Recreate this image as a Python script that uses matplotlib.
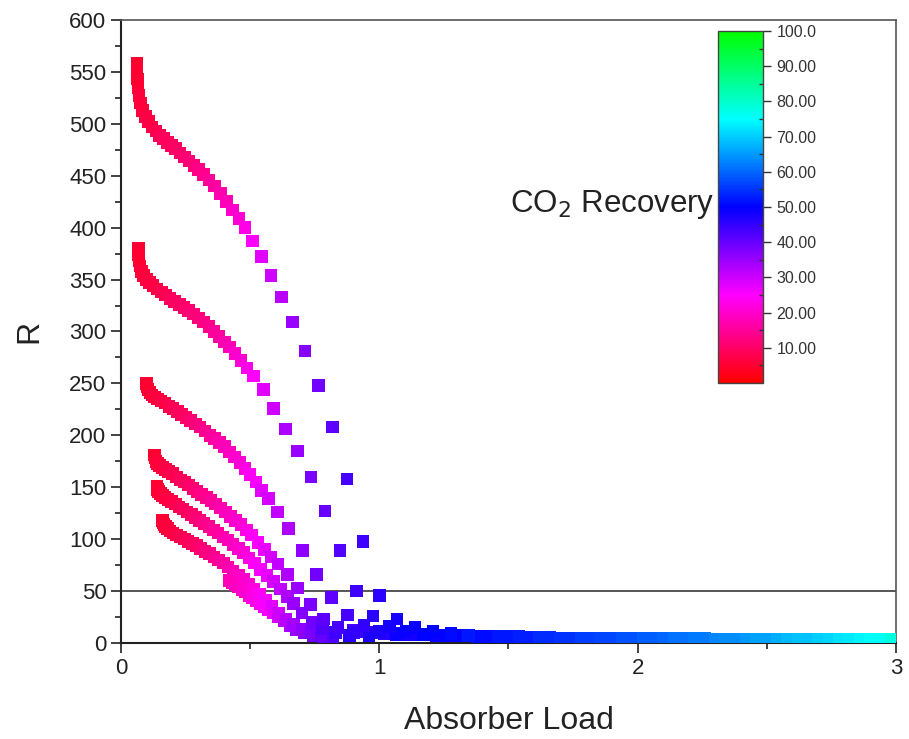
import matplotlib
matplotlib.use("Agg")
import matplotlib.pyplot as plt
from matplotlib.colors import LinearSegmentedColormap
from matplotlib.ticker import MultipleLocator, FixedLocator

plt.rcParams['font.family'] = ['Liberation Sans', 'DejaVu Sans']

# --- data: absorber load, R and CO2 recovery (%) per sweep ---
a_load = [0.062, 0.062, 0.063, 0.066, 0.07, 0.076, 0.084, 0.094, 0.106, 0.12,
          0.135, 0.15, 0.165, 0.18, 0.195, 0.21, 0.228, 0.246, 0.264, 0.282,
          0.30, 0.32, 0.34, 0.362, 0.385, 0.408, 0.432, 0.456, 0.48, 0.508,
          0.543, 0.58, 0.621, 0.664, 0.712, 0.764, 0.819, 0.875, 0.936, 1.0,
          1.068, 1.138, 1.208, 1.278, 1.345]
a_r = [558, 551, 543, 535, 527, 520, 513, 507, 502, 497,
       493, 489, 486, 482, 479, 476, 472, 468, 464, 460,
       456, 451, 446, 440, 433, 425, 417, 409, 400, 387,
       372, 354, 333, 309, 281, 248, 208, 158, 98, 46,
       23, 15, 11, 9, 7]
a_rec = [5, 5, 5, 5, 6, 6, 6, 7, 7, 7,
         8, 8, 9, 9, 9, 10, 10, 11, 12, 12,
         13, 14, 15, 16, 17, 18, 20, 21, 23, 25,
         28, 30, 32, 35, 37, 39, 41, 43, 44, 46,
         48, 49, 50, 51, 52]

b_load = [0.068, 0.068, 0.07, 0.074, 0.08, 0.088, 0.098, 0.11, 0.124, 0.14,
          0.156, 0.172, 0.19, 0.208, 0.226, 0.244, 0.262, 0.28, 0.30, 0.32,
          0.34, 0.36, 0.38, 0.40, 0.42, 0.442, 0.465, 0.488, 0.512, 0.551,
          0.59, 0.636, 0.683, 0.735, 0.79, 0.848, 0.912, 0.976, 1.04, 1.105,
          1.17]
b_r = [380, 374, 368, 363, 358, 354, 350, 347, 344, 341,
       338, 335, 332, 329, 326, 323, 320, 317, 313, 309,
       305, 300, 295, 290, 285, 279, 272, 265, 257, 244,
       226, 206, 185, 160, 127, 89, 50, 26, 16, 11,
       8]
b_rec = [5, 5, 5, 5, 6, 6, 6, 7, 7, 7,
         8, 8, 9, 9, 10, 10, 11, 12, 12, 13,
         14, 15, 16, 17, 18, 20, 21, 23, 25, 28,
         30, 33, 35, 38, 40, 42, 44, 46, 48, 49,
         50]

c_load = [0.098, 0.1, 0.105, 0.112, 0.12, 0.13, 0.142, 0.155, 0.17, 0.186,
          0.202, 0.218, 0.235, 0.252, 0.27, 0.288, 0.306, 0.325, 0.344, 0.363,
          0.382, 0.40, 0.42, 0.44, 0.46, 0.48, 0.50, 0.522, 0.545, 0.57,
          0.605, 0.648, 0.702, 0.757, 0.815, 0.877, 0.94, 1.0, 1.065]
c_r = [250, 247, 244, 241, 239, 237, 235, 233, 231, 228,
       226, 223, 220, 217, 214, 211, 208, 204, 200, 197,
       193, 189, 184, 179, 174, 168, 162, 155, 147, 139,
       126, 110, 89, 66, 44, 27, 17, 11, 8]
c_rec = [5, 5, 5, 5, 6, 6, 6, 7, 7, 8,
         8, 9, 9, 10, 11, 12, 13, 14, 15, 16,
         17, 18, 19, 20, 21, 22, 24, 26, 28, 29,
         31, 33, 36, 39, 41, 43, 45, 47, 49]

d_load = [0.13, 0.132, 0.136, 0.142, 0.15, 0.16, 0.172, 0.185, 0.2, 0.215,
          0.23, 0.246, 0.262, 0.278, 0.295, 0.312, 0.33, 0.348, 0.366, 0.385,
          0.404, 0.424, 0.444, 0.464, 0.485, 0.506, 0.53, 0.555, 0.58, 0.607,
          0.644, 0.684, 0.733, 0.784, 0.84, 0.9, 0.96]
d_r = [181, 178, 175, 173, 171, 169, 167, 165, 163, 160,
       157, 155, 152, 149, 146, 143, 140, 137, 134, 130,
       126, 122, 118, 114, 109, 104, 97, 90, 83, 76,
       66, 53, 37, 23, 15, 10, 7]
d_rec = [5, 5, 5, 6, 6, 6, 7, 7, 8, 8,
         9, 9, 10, 11, 12, 13, 14, 15, 16, 17,
         18, 19, 20, 21, 22, 24, 26, 27, 29, 31,
         33, 35, 38, 41, 43, 45, 47]

e_load = [0.14, 0.142, 0.146, 0.152, 0.16, 0.17, 0.182, 0.196, 0.21, 0.225,
          0.24, 0.256, 0.272, 0.288, 0.305, 0.322, 0.34, 0.358, 0.376, 0.395,
          0.414, 0.434, 0.454, 0.474, 0.495, 0.516, 0.54, 0.565, 0.59, 0.617,
          0.645, 0.667, 0.7, 0.74, 0.78, 0.83, 0.885]
e_r = [151, 148, 146, 144, 142, 140, 138, 136, 134, 131,
       129, 126, 124, 121, 118, 115, 112, 109, 106, 102,
       99, 95, 91, 87, 82, 77, 71, 65, 59, 52,
       45, 38, 29, 20, 14, 10, 7]
e_rec = [5, 5, 5, 6, 6, 6, 7, 7, 8, 8,
         9, 9, 10, 11, 12, 13, 14, 15, 16, 17,
         18, 19, 20, 21, 22, 24, 26, 27, 29, 31,
         33, 35, 37, 39, 42, 44, 46]

f_load = [0.16, 0.162, 0.166, 0.172, 0.18, 0.19, 0.202, 0.215, 0.23, 0.245,
          0.26, 0.276, 0.292, 0.308, 0.325, 0.342, 0.36, 0.378, 0.396, 0.415,
          0.434, 0.454, 0.474, 0.494, 0.515, 0.537, 0.56, 0.585, 0.61, 0.638,
          0.668, 0.7, 0.735, 0.775, 0.82]
f_r = [118, 116, 114, 112, 110, 108, 106, 104, 102, 100,
       98, 96, 94, 91, 88, 86, 83, 80, 77, 73,
       69, 65, 61, 57, 52, 47, 41, 35, 29, 23,
       18, 13, 10, 7, 5]
f_rec = [5, 5, 5, 6, 6, 6, 7, 7, 8, 8,
         9, 9, 10, 11, 12, 13, 14, 15, 16, 17,
         18, 19, 20, 21, 22, 24, 26, 28, 30, 32,
         34, 36, 38, 40, 42]

g_load = [0.42, 0.43, 0.442, 0.455, 0.468, 0.482, 0.496, 0.51, 0.525, 0.54,
          0.556, 0.572, 0.59, 0.61, 0.632, 0.655, 0.68, 0.71, 0.745, 0.785]
g_r = [60, 58, 56, 54, 51, 49, 46, 44, 41, 38,
       35, 32, 29, 25, 21, 17, 13, 10, 7, 5]
g_rec = [18, 18, 19, 19, 20, 20, 21, 22, 23, 24,
         25, 26, 27, 29, 31, 33, 35, 37, 39, 41]

# low-R tail shared by all sweeps at high load
tail_load = [0.90, 0.94, 0.98, 1.02, 1.06, 1.10, 1.14, 1.18, 1.22, 1.26,
             1.30, 1.34, 1.38, 1.42, 1.46, 1.50, 1.54, 1.58, 1.62, 1.66,
             1.70, 1.74, 1.78, 1.82, 1.86, 1.90, 1.94, 1.98, 2.02, 2.06,
             2.10, 2.14, 2.18, 2.22, 2.26, 2.30, 2.34, 2.38, 2.42, 2.46,
             2.50, 2.54, 2.58, 2.62, 2.66, 2.70, 2.74, 2.78, 2.82, 2.86,
             2.90, 2.94, 2.98]
tail_r = [12, 11, 10, 9, 9, 8, 8, 8, 7, 7,
          7, 7, 6, 6, 6, 6, 6, 5.5, 5.5, 5.5,
          5, 5, 5, 5, 5, 5, 4.5, 4.5, 4.5, 4.5,
          4.5, 4.5, 4.5, 4.5, 4.5, 4, 4, 4, 4, 4,
          4, 4, 4, 4, 4, 4, 4, 4, 4, 4,
          4, 4, 4]
tail_rec = [43, 44, 45, 46, 47, 48, 48, 49, 49, 50,
            50, 51, 51, 51, 52, 52, 53, 53, 54, 54,
            55, 55, 56, 56, 57, 57, 58, 58, 59, 59,
            60, 61, 61, 62, 62, 63, 64, 64, 65, 66,
            66, 67, 68, 69, 69, 70, 71, 72, 73, 74,
            75, 76, 78]

sweeps = [
    (tail_load, tail_r, tail_rec),
    (g_load, g_r, g_rec),
    (f_load, f_r, f_rec),
    (e_load, e_r, e_rec),
    (d_load, d_r, d_rec),
    (c_load, c_r, c_rec),
    (b_load, b_r, b_rec),
    (a_load, a_r, a_rec),
]

cbar_ticks = [10, 20, 30, 40, 50, 60, 70, 80, 90, 100]
cbar_labels = ['10.00', '20.00', '30.00', '40.00', '50.00',
               '60.00', '70.00', '80.00', '90.00', '100.0']

# red -> magenta -> blue -> cyan -> green
rainbow = LinearSegmentedColormap.from_list(
    'rec', [(0.0, '#ff0000'), (0.25, '#ff00ff'), (0.5, '#0000ff'),
            (0.75, '#00ffff'), (1.0, '#00ff00')])

fig = plt.figure(figsize=(9.09, 7.39), dpi=100)
ax = fig.add_axes([0.1331, 0.1299, 0.8526, 0.8431])

for load, r, rec in sweeps:
    sc = ax.scatter(load, r, c=rec, cmap=rainbow, vmin=0, vmax=100,
                    marker='s', s=82, linewidths=0, zorder=3)

ax.axhline(50, color='#555555', lw=1.4, zorder=2)

ax.set_xlim(0, 3)
ax.set_ylim(0, 600)
ax.xaxis.set_major_locator(MultipleLocator(1))
ax.xaxis.set_minor_locator(MultipleLocator(0.5))
ax.yaxis.set_major_locator(MultipleLocator(50))
ax.yaxis.set_minor_locator(MultipleLocator(25))
ax.tick_params(which='both', direction='out', colors='#222222',
               labelsize=16, width=1.2, top=False, right=False)
ax.tick_params(which='major', length=7)
ax.tick_params(which='minor', length=4)
for sp in ax.spines.values():
    sp.set_color('#555555')
    sp.set_linewidth(1.2)
ax.spines['left'].set_color('#222222')
ax.spines['left'].set_linewidth(1.5)
ax.spines['bottom'].set_color('#222222')
ax.spines['bottom'].set_linewidth(1.5)

ax.set_xlabel('Absorber Load', fontsize=23, color='#222222', labelpad=20)
ax.set_ylabel('R', fontsize=23, color='#222222', labelpad=18)

# colour scale placed inside the plot area
cax = fig.add_axes([0.790, 0.4817, 0.049, 0.4763])
cb = fig.colorbar(sc, cax=cax)
cb.set_ticks(cbar_ticks)
cb.set_ticklabels(cbar_labels)
cb.ax.yaxis.set_minor_locator(FixedLocator([5, 15, 25, 35, 45, 55, 65, 75, 85, 95]))
cb.ax.tick_params(which='major', direction='out', length=6, width=1.0,
                  colors='#333333', labelsize=11.5, pad=4)
cb.ax.tick_params(which='minor', direction='in', length=3, width=1.0,
                  colors='#333333')
cb.outline.set_edgecolor('#444444')
cb.outline.set_linewidth(1.0)

ax.text(0.766, 0.703, 'CO$_2$ Recovery', transform=ax.transAxes,
        ha='right', va='center', fontsize=22.5, color='#222222')

fig.savefig('out.png', dpi=100)
